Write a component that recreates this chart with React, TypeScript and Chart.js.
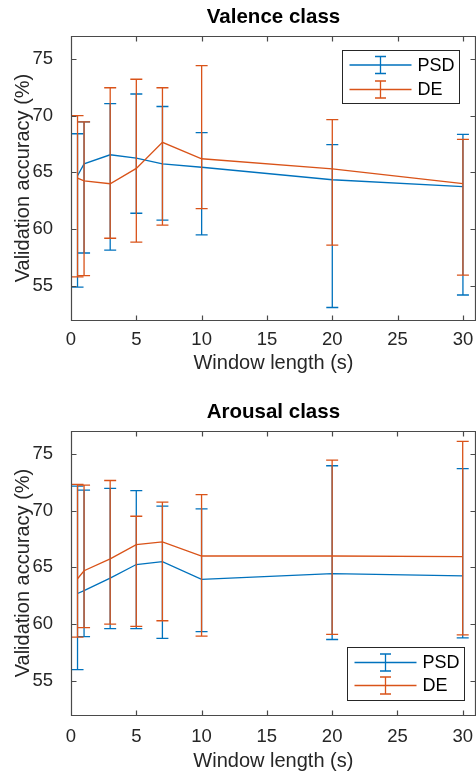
import React, { useEffect, useRef } from 'react';
import { Chart, registerables } from 'chart.js';

Chart.register(...registerables);

// ---------------- data ----------------
const windowLengths = [0.5, 1, 3, 5, 7, 10, 20, 30];
const xTicks = [0, 5, 10, 15, 20, 25, 30];
const yTicks = [55, 60, 65, 70, 75];
const seriesNames = ['PSD', 'DE'];
const chartTitles = ['Valence class', 'Arousal class'];
const xAxisTitle = 'Window length (s)';
const yAxisTitle = 'Validation accuracy (%)';

const valencePsdMean = [64.7, 65.75, 66.55, 66.25, 65.75, 65.45, 64.35, 63.75];
const valencePsdLower = [54.9, 57.9, 58.15, 61.4, 60.8, 59.5, 53.1, 54.2];
const valencePsdUpper = [68.4, 69.45, 71.05, 71.9, 70.8, 68.5, 67.45, 68.35];
const valenceDeMean = [64.5, 64.25, 64.0, 65.35, 67.65, 66.2, 65.3, 64.0];
const valenceDeLower = [55.8, 55.9, 59.2, 58.85, 60.35, 61.8, 58.6, 55.95];
const valenceDeUpper = [70.0, 69.45, 72.45, 73.2, 72.45, 74.4, 69.65, 67.9];

const arousalPsdMean = [62.7, 62.95, 64.05, 65.25, 65.5, 63.95, 64.45, 64.25];
const arousalPsdLower = [56.0, 58.9, 59.6, 59.6, 58.75, 59.35, 58.65, 58.8];
const arousalPsdUpper = [72.15, 71.8, 71.95, 71.75, 70.4, 70.15, 73.95, 73.7];
const arousalDeMean = [64.0, 64.7, 65.75, 67.0, 67.25, 66.0, 66.0, 65.95];
const arousalDeLower = [58.85, 59.7, 60.0, 59.8, 60.3, 58.95, 59.1, 59.05];
const arousalDeUpper = [72.3, 72.25, 72.65, 69.5, 70.75, 71.4, 74.45, 76.1];

// ---------------- styles ----------------
const BLUE = '#0072BD';
const ORANGE = '#D95319';
const AXIS = '#4a4a4a';
const TEXT = '#262626';
const FONT = '"Liberation Sans", Arial, Helvetica, sans-serif';

// error bars drawn through the scales
const errorBarPlugin = {
  id: 'errorBars',
  afterDatasetDraw(chart: any, args: any) {
    const ds: any = chart.data.datasets[args.index];
    if (!ds.lower || !ds.upper) return;
    const { ctx, scales } = chart;
    const xs = scales.x;
    const ys = scales.y;
    const cap = 6;
    ctx.save();
    ctx.strokeStyle = ds.borderColor;
    ctx.lineWidth = 1.3;
    ds.data.forEach((p: any, i: number) => {
      const px = xs.getPixelForValue(p.x);
      const yl = ys.getPixelForValue(ds.lower[i]);
      const yu = ys.getPixelForValue(ds.upper[i]);
      ctx.beginPath();
      ctx.moveTo(px, yl);
      ctx.lineTo(px, yu);
      ctx.moveTo(px - cap, yl);
      ctx.lineTo(px + cap, yl);
      ctx.moveTo(px - cap, yu);
      ctx.lineTo(px + cap, yu);
      ctx.stroke();
    });
    ctx.restore();
  },
};

// MATLAB-like box with inward ticks
const framePlugin = {
  id: 'matlabFrame',
  afterDraw(chart: any) {
    const { ctx, chartArea: a, scales } = chart;
    const L = Math.round(a.left) + 0.5;
    const R = Math.round(a.right) - 0.5;
    const T = Math.round(a.top) + 0.5;
    const B = Math.round(a.bottom) + 0.5;
    const tl = 5;
    ctx.save();
    ctx.strokeStyle = AXIS;
    ctx.lineWidth = 1.2;
    ctx.beginPath();
    ctx.rect(L, T, R - L, B - T);
    scales.x.ticks.forEach((t: any) => {
      const px = Math.round(scales.x.getPixelForValue(t.value)) + 0.5;
      ctx.moveTo(px, B);
      ctx.lineTo(px, B - tl);
      ctx.moveTo(px, T);
      ctx.lineTo(px, T + tl);
    });
    scales.y.ticks.forEach((t: any) => {
      const py = Math.round(scales.y.getPixelForValue(t.value)) + 0.5;
      ctx.moveTo(L, py);
      ctx.lineTo(L + tl, py);
      ctx.moveTo(R, py);
      ctx.lineTo(R - tl, py);
    });
    ctx.stroke();
    ctx.restore();
  },
};

// legend with error-bar symbol
const ebLegendPlugin = {
  id: 'ebLegend',
  afterDraw(chart: any, _args: any, opts: any) {
    const { ctx, chartArea: a } = chart;
    const w = opts.width;
    const h = opts.height;
    const left = Math.round(a.right - opts.offsetRight - w) + 0.5;
    const top = Math.round(opts.corner === 'ne' ? a.top + opts.offsetY : a.bottom - opts.offsetY - h) + 0.5;
    ctx.save();
    ctx.fillStyle = '#ffffff';
    ctx.fillRect(left, top, w, h);
    ctx.strokeStyle = TEXT;
    ctx.lineWidth = 1;
    ctx.strokeRect(left, top, w, h);
    ctx.font = `18px ${FONT}`;
    ctx.textBaseline = 'middle';
    ctx.textAlign = 'left';
    chart.data.datasets.forEach((ds: any, i: number) => {
      const cy = top + opts.rowY[i];
      const x0 = left + 7;
      const x1 = left + 69;
      const xc = (x0 + x1) / 2;
      ctx.strokeStyle = ds.borderColor;
      ctx.lineWidth = 1.3;
      ctx.beginPath();
      ctx.moveTo(x0, cy);
      ctx.lineTo(x1, cy);
      ctx.moveTo(xc, cy - 8.5);
      ctx.lineTo(xc, cy + 8.5);
      ctx.moveTo(xc - 5.5, cy - 8.5);
      ctx.lineTo(xc + 5.5, cy - 8.5);
      ctx.moveTo(xc - 5.5, cy + 8.5);
      ctx.lineTo(xc + 5.5, cy + 8.5);
      ctx.stroke();
      ctx.fillStyle = '#000000';
      ctx.fillText(ds.label, left + 75, cy + 1);
    });
    ctx.restore();
  },
};

type Series = { mean: number[]; lower: number[]; upper: number[] };

function makeConfig(
  title: string,
  psd: Series,
  de: Series,
  lay: {
    titlePadTop: number;
    titlePadBottom: number;
    xAxisHeight: number;
    xTickPad: number;
    xTitlePadBottom: number;
    legendCorner: 'ne' | 'se';
    legendOffsetRight: number;
    legendOffsetY: number;
    legendRowY: number[];
  }
): any {
  const series = [psd, de];
  const colors = [BLUE, ORANGE];
  return {
    type: 'line',
    data: {
      datasets: series.map((s, k) => ({
        label: seriesNames[k],
        data: windowLengths.map((x, i) => ({ x, y: s.mean[i] })),
        lower: s.lower,
        upper: s.upper,
        borderColor: colors[k],
        backgroundColor: colors[k],
        borderWidth: 1.3,
        pointRadius: 0,
        tension: 0,
        fill: false,
        order: 1 - k,
      })),
    },
    options: {
      animation: false,
      responsive: false,
      devicePixelRatio: 1,
      layout: { padding: 0 },
      plugins: {
        legend: { display: false },
        tooltip: { enabled: false },
        title: {
          display: true,
          text: title,
          fullSize: false,
          color: '#000000',
          font: { family: FONT, size: 20.5, weight: 'bold', lineHeight: 1.2 },
          padding: { top: lay.titlePadTop, bottom: lay.titlePadBottom },
        },
        ebLegend: {
          corner: lay.legendCorner,
          width: 117,
          height: 53,
          offsetRight: lay.legendOffsetRight,
          offsetY: lay.legendOffsetY,
          rowY: lay.legendRowY,
        },
      },
      scales: {
        x: {
          type: 'linear',
          min: 0,
          max: 31,
          grid: { display: false },
          border: { display: false },
          afterBuildTicks: (s: any) => {
            s.ticks = xTicks.map((v) => ({ value: v }));
          },
          afterFit: (s: any) => {
            s.height = lay.xAxisHeight;
          },
          ticks: {
            color: TEXT,
            padding: lay.xTickPad,
            maxRotation: 0,
            autoSkip: false,
            font: { family: FONT, size: 18.5 },
          },
          title: {
            display: true,
            text: xAxisTitle,
            color: TEXT,
            font: { family: FONT, size: 20 },
            padding: { top: 0, bottom: lay.xTitlePadBottom },
          },
        },
        y: {
          type: 'linear',
          min: 52,
          max: 77,
          grid: { display: false },
          border: { display: false },
          afterBuildTicks: (s: any) => {
            s.ticks = yTicks.map((v) => ({ value: v }));
          },
          afterFit: (s: any) => {
            s.width = 71;
          },
          ticks: {
            color: TEXT,
            padding: 10,
            autoSkip: false,
            font: { family: FONT, size: 18.5 },
          },
          title: {
            display: true,
            text: yAxisTitle,
            color: TEXT,
            font: { family: FONT, size: 20 },
            padding: { top: 11, bottom: 0 },
          },
        },
      },
    },
    plugins: [errorBarPlugin, framePlugin, ebLegendPlugin],
  };
}

export default function App() {
  const topRef = useRef<HTMLCanvasElement | null>(null);
  const botRef = useRef<HTMLCanvasElement | null>(null);

  useEffect(() => {
    const c1 = new Chart(
      topRef.current as HTMLCanvasElement,
      makeConfig(
        chartTitles[0],
        { mean: valencePsdMean, lower: valencePsdLower, upper: valencePsdUpper },
        { mean: valenceDeMean, lower: valenceDeLower, upper: valenceDeUpper },
        {
          titlePadTop: 5.5,
          titlePadBottom: 6,
          xAxisHeight: 70,
          xTickPad: 1,
          xTitlePadBottom: 14.5,
          legendCorner: 'ne',
          legendOffsetRight: 17,
          legendOffsetY: 14,
          legendRowY: [14.5, 39],
        }
      )
    );
    const c2 = new Chart(
      botRef.current as HTMLCanvasElement,
      makeConfig(
        chartTitles[1],
        { mean: arousalPsdMean, lower: arousalPsdLower, upper: arousalPsdUpper },
        { mean: arousalDeMean, lower: arousalDeLower, upper: arousalDeUpper },
        {
          titlePadTop: 10,
          titlePadBottom: 6.5,
          xAxisHeight: 58,
          xTickPad: 3,
          xTitlePadBottom: 0,
          legendCorner: 'se',
          legendOffsetRight: 12,
          legendOffsetY: 15,
          legendRowY: [15, 38],
        }
      )
    );
    return () => {
      c1.destroy();
      c2.destroy();
    };
  }, []);

  return (
    <div style={{ position: 'absolute', left: 0, top: 0, width: 476, height: 773, background: '#ffffff' }}>
      <canvas
        ref={topRef}
        width={476}
        height={390}
        style={{ position: 'absolute', left: 0, top: 0, width: 476, height: 390, display: 'block' }}
      />
      <canvas
        ref={botRef}
        width={476}
        height={383}
        style={{ position: 'absolute', left: 0, top: 390, width: 476, height: 383, display: 'block' }}
      />
    </div>
  );
}
